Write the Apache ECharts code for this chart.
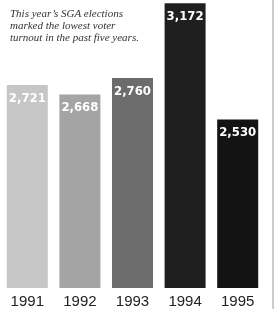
<!DOCTYPE html>
<html lang="en">
<head>
    <meta charset="UTF-8">
    <title>SGA turnout</title>
    <script src="https://cdn.jsdelivr.net/npm/echarts@6/dist/echarts.min.js"></script>
    <style>
        html, body { margin: 0; padding: 0; background: #fff; }
        #main { width: 276px; height: 309px; }
    </style>
</head>
<body>
    <div id="main"></div>
    <script>
        // data
        var years = ['1991', '1992', '1993', '1994', '1995'];
        var voters = [2721, 2668, 2760, 3172, 2530];
        var barColors = ['#c6c6c6', '#a4a4a4', '#6c6c6c', '#1f1f1f', '#131313'];
        var note = ['This year\u2019s SGA elections', 'marked the lowest voter', 'turnout in the past five years.'];

        var myChart = echarts.init(document.getElementById('main'));

        var option = {
            backgroundColor: '#fff',
            animation: false,
            grid: { left: 1, right: 12, top: 0, bottom: 20, containLabel: false },
            xAxis: {
                type: 'category',
                data: years,
                axisLine: { show: false },
                axisTick: { show: false },
                axisLabel: {
                    margin: 6,
                    fontFamily: 'Liberation Sans, Arial, sans-serif',
                    fontSize: 15,
                    color: '#222'
                }
            },
            yAxis: {
                type: 'value',
                min: 1600,
                max: 3190,
                show: false,
                splitLine: { show: false }
            },
            series: [{
                type: 'bar',
                barWidth: 41,
                data: voters.map(function (v, i) {
                    return { value: v, itemStyle: { color: barColors[i] } };
                }),
                label: {
                    show: true,
                    position: 'insideTop',
                    distance: 7,
                    color: '#fff',
                    fontWeight: 'bold',
                    fontSize: 13,
                    fontFamily: 'DejaVu Sans Condensed',
                    formatter: function (p) {
                        return p.value.toLocaleString('en-US');
                    }
                }
            }],
            graphic: [
                {
                    type: 'text',
                    left: 10,
                    top: 8,
                    style: {
                        text: note.join('\n'),
                        fontFamily: 'Liberation Serif, serif',
                        fontStyle: 'italic',
                        fontSize: 11,
                        lineHeight: 12,
                        fill: '#333'
                    }
                },
                {
                    type: 'line',
                    shape: { x1: 273, y1: 0, x2: 273, y2: 309 },
                    style: { stroke: '#999', lineWidth: 1 }
                }
            ]
        };

        myChart.setOption(option);
    </script>
</body>
</html>
